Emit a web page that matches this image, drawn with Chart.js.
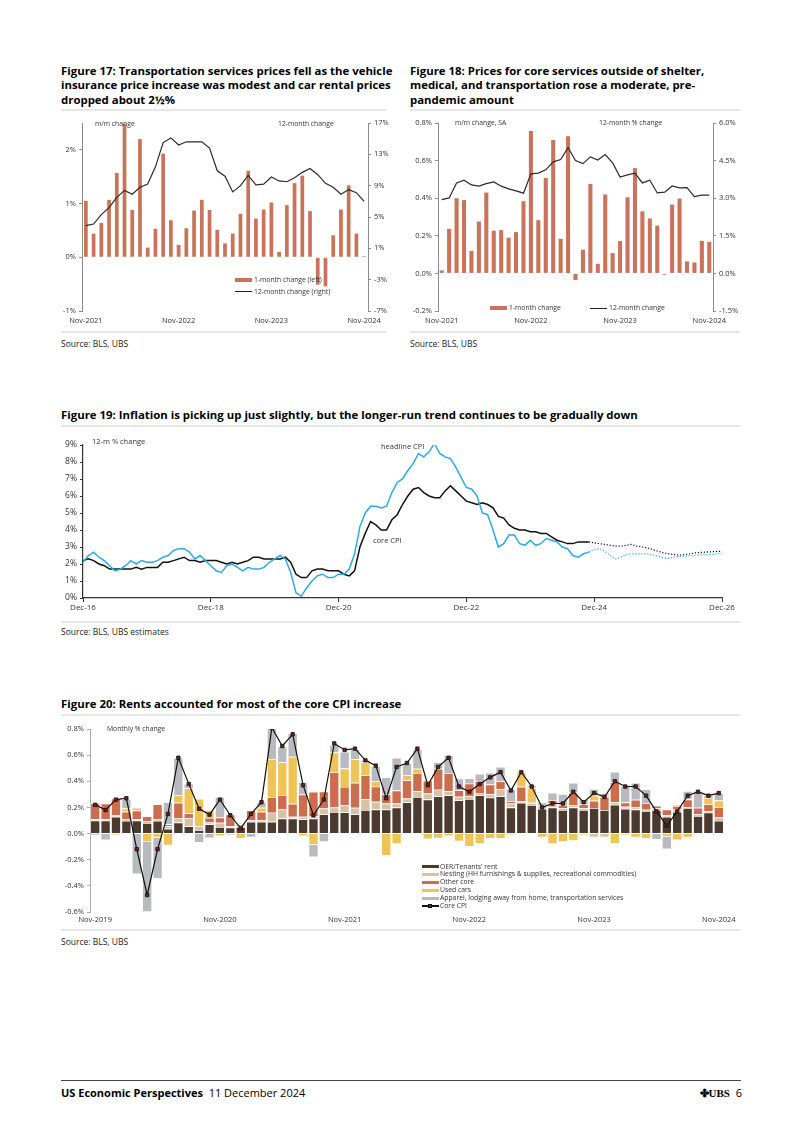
<!DOCTYPE html>
<html>
<head>
<meta charset="utf-8">
<script src="https://cdn.jsdelivr.net/npm/chart.js@4.4.1/dist/chart.umd.min.js"></script>
<style>
  body { margin: 0; width: 802px; height: 1134px; position: relative; background: #fff; overflow: hidden;
         font-family: 'Open Sans', 'Noto Sans', sans-serif; color: #000; }
  .title { position: absolute; font-weight: 700; font-size: 11.4px; line-height: 14.3px; white-space: nowrap; }
  .rule { position: absolute; height: 2px; background: #e6e6e6; }
  .src { position: absolute; font-size: 8.5px; line-height: 10px; color: #222; }
  .note { position: absolute; font-size: 6.8px; line-height: 8px; color: #333; white-space: nowrap; }
  .sw { position: absolute; }
  canvas { position: absolute; }
</style>
</head>
<body>

<div class="title" style="left:61px;top:64px">Figure 17: Transportation services prices fell as the vehicle<br>insurance price increase was modest and car rental prices<br>dropped about 2½%</div>
<div class="title" style="left:410px;top:64px">Figure 18: Prices for core services outside of shelter,<br>medical, and transportation rose a moderate, pre-<br>pandemic amount</div>
<div class="rule" style="left:61px;top:109px;width:325px"></div>
<div class="rule" style="left:410px;top:109px;width:330px"></div>

<canvas id="c17" width="335" height="215" style="left:55px;top:115px"></canvas>
<canvas id="c18" width="345" height="215" style="left:400px;top:115px"></canvas>

<div class="note" style="left:95px;top:120px">m/m change</div>
<div class="note" style="left:278px;top:120px">12-month change</div>
<div class="sw" style="left:235px;top:278px;width:17px;height:4px;background:#c8735a"></div>
<div class="note" style="left:254px;top:276px">1-month change (left)</div>
<div class="sw" style="left:235px;top:291px;width:17px;height:1.3px;background:#222"></div>
<div class="note" style="left:254px;top:288px">12-month change (right)</div>

<div class="note" style="left:455px;top:119px">m/m change, SA</div>
<div class="note" style="left:599px;top:119px">12-month % change</div>
<div class="sw" style="left:490px;top:306px;width:17px;height:4px;background:#c8735a"></div>
<div class="note" style="left:509px;top:304px">1-month change</div>
<div class="sw" style="left:590px;top:307.5px;width:17px;height:1.3px;background:#222"></div>
<div class="note" style="left:609px;top:304px">12-month change</div>

<div class="rule" style="left:61px;top:331px;width:325px"></div>
<div class="rule" style="left:410px;top:331px;width:330px"></div>
<div class="src" style="left:61px;top:339px">Source: BLS, UBS</div>
<div class="src" style="left:410px;top:339px">Source: BLS, UBS</div>

<div class="title" style="left:61px;top:408px">Figure 19: Inflation is picking up just slightly, but the longer-run trend continues to be gradually down</div>
<div class="rule" style="left:61px;top:425px;width:679px"></div>
<canvas id="c19" width="690" height="185" style="left:55px;top:432px"></canvas>
<div class="note" style="left:92px;top:437px;font-size:7.5px">12-m % change</div>
<div class="note" style="left:381px;top:442px;font-size:7.5px">headline CPI</div>
<div class="note" style="left:373px;top:536px;font-size:7.5px">core CPI</div>
<div class="rule" style="left:61px;top:621px;width:679px"></div>
<div class="src" style="left:61px;top:627px">Source: BLS, UBS estimates</div>

<div class="title" style="left:61px;top:697px">Figure 20: Rents accounted for most of the core CPI increase</div>
<div class="rule" style="left:61px;top:714px;width:679px"></div>
<canvas id="c20" width="690" height="210" style="left:55px;top:720px"></canvas>
<div class="note" style="left:107px;top:725px">Monthly % change</div>
<div id="leg20"></div>
<div class="rule" style="left:61px;top:929px;width:679px"></div>
<div class="src" style="left:61px;top:937px">Source: BLS, UBS</div>

<div style="position:absolute;left:61px;top:1080px;width:680px;height:1px;background:#444"></div>
<div style="position:absolute;left:61px;top:1086px;font-size:11px;line-height:14px;white-space:nowrap"><b>US Economic Perspectives</b>&nbsp; 11 December 2024</div>
<div style="position:absolute;left:690px;top:1086px;width:52px;text-align:right;font-size:11px;line-height:14px;white-space:nowrap"><span style="font-family:'Liberation Serif',serif;font-weight:700">✤UBS</span>&nbsp; 6</div>

<script>
// Figure 17: transportation services
const months17 = ['Nov-2021', 'Nov-2022', 'Nov-2023', 'Nov-2024'];
const transport1m = [1.05, 0.44, 0.64, 1.07, 1.57, 2.48, 0.88, 2.2, 0.18, 0.53,
                     1.93, 0.69, 0.23, 0.54, 0.87, 1.07, 0.88, 0.51, 0.26, 0.44,
                     0.81, 1.61, 0.72, 0.89, 1.02, 0.10, 0.97, 1.38, 1.52, 0.86,
                     -0.51, -0.54, 0.41, 0.89, 1.34, 0.44, 0.02];
const transport12m = [3.9, 4.1, 5.3, 6.2, 7.5, 8.4, 7.9, 8.8, 9.2, 11.4,
                      14.5, 15.1, 14.2, 14.6, 14.6, 14.6, 13.8, 10.9, 10.2, 8.2,
                      9.0, 10.3, 9.1, 9.2, 10.1, 9.6, 9.5, 10.0, 10.7, 11.2,
                      10.4, 9.3, 8.8, 7.9, 8.5, 8.1, 7.0];

// Figure 18: other core services
const months18 = ['Nov-2021', 'Nov-2022', 'Nov-2023', 'Nov-2024'];
const services1m = [0.016, 0.237, 0.40, 0.39, 0.12, 0.276, 0.43, 0.227, 0.23, 0.19,
                    0.22, 0.384, 0.757, 0.283, 0.508, 0.71, 0.184, 0.73, -0.035, 0.126,
                    0.476, 0.051, 0.42, 0.108, 0.172, 0.405, 0.56, 0.33, 0.292, 0.254,
                    -0.007, 0.366, 0.398, 0.064, 0.058, 0.173, 0.168];
const services12m = [2.94, 3.01, 3.61, 3.72, 3.53, 3.48, 3.58, 3.65, 3.48, 3.37,
                     3.29, 3.20, 3.97, 4.0, 4.13, 4.45, 4.54, 5.02, 4.50, 4.38,
                     4.65, 4.52, 4.74, 4.41, 3.84, 3.93, 4.0, 3.61, 3.72, 3.21,
                     3.24, 3.49, 3.41, 3.42, 3.06, 3.12, 3.12];

// Figure 19: CPI 12-m % change, Dec-16 .. Nov-24 actual, Nov-24 .. Dec-26 forecast
const ticks19 = ['Dec-16', 'Dec-18', 'Dec-20', 'Dec-22', 'Dec-24', 'Dec-26'];
const headlineCPI = [2.1,
  2.5, 2.7, 2.4, 2.2, 1.9, 1.6, 1.7, 1.9, 2.2, 2.0, 2.2, 2.1,
  2.1, 2.2, 2.4, 2.5, 2.8, 2.9, 2.9, 2.7, 2.3, 2.5, 2.2, 1.9,
  1.6, 1.5, 1.9, 2.0, 1.8, 1.6, 1.8, 1.7, 1.7, 1.8, 2.1, 2.3,
  2.5, 2.3, 1.5, 0.3, 0.1, 0.6, 1.0, 1.3, 1.4, 1.2, 1.2, 1.4,
  1.4, 1.7, 2.6, 4.2, 5.0, 5.4, 5.4, 5.3, 5.4, 6.2, 6.8, 7.0,
  7.5, 7.9, 8.5, 8.3, 8.6, 9.1, 8.5, 8.3, 8.2, 7.7, 7.1, 6.5,
  6.4, 6.0, 5.0, 4.9, 4.0, 3.0, 3.2, 3.7, 3.7, 3.2, 3.1, 3.4,
  3.1, 3.2, 3.5, 3.4, 3.3, 3.0, 2.9, 2.5, 2.4, 2.6, 2.7];
const coreCPI = [2.2,
  2.3, 2.2, 2.0, 1.9, 1.7, 1.7, 1.7, 1.7, 1.7, 1.8, 1.7, 1.8,
  1.8, 1.8, 2.1, 2.1, 2.2, 2.3, 2.4, 2.2, 2.2, 2.1, 2.2, 2.2,
  2.2, 2.1, 2.0, 2.1, 2.0, 2.1, 2.2, 2.4, 2.4, 2.3, 2.3, 2.3,
  2.3, 2.4, 2.1, 1.4, 1.2, 1.2, 1.6, 1.7, 1.7, 1.6, 1.6, 1.6,
  1.4, 1.3, 1.6, 3.0, 3.8, 4.5, 4.3, 4.0, 4.0, 4.6, 4.9, 5.5,
  6.0, 6.4, 6.5, 6.2, 6.0, 5.9, 5.9, 6.3, 6.6, 6.3, 6.0, 5.7,
  5.6, 5.5, 5.6, 5.5, 5.3, 4.8, 4.7, 4.3, 4.1, 4.0, 4.0, 3.9,
  3.9, 3.8, 3.8, 3.6, 3.4, 3.3, 3.2, 3.2, 3.3, 3.3, 3.3];
const headlineFcst = [2.7, 2.85, 2.9, 2.75, 2.5, 2.3, 2.4, 2.55, 2.6, 2.6, 2.6, 2.6, 2.55,
                      2.45, 2.35, 2.35, 2.4, 2.45, 2.45, 2.5, 2.5, 2.55, 2.55, 2.55, 2.6, 2.6];
const coreFcst = [3.3, 3.25, 3.2, 3.15, 3.1, 3.05, 3.05, 3.1, 3.15, 3.05, 3.0, 2.95, 2.85,
                  2.75, 2.65, 2.6, 2.55, 2.52, 2.55, 2.6, 2.65, 2.68, 2.7, 2.72, 2.74, 2.75];

// Figure 20: contributions to monthly core CPI, Nov-2019 .. Nov-2024
const ticks20 = ['Nov-2019', 'Nov-2020', 'Nov-2021', 'Nov-2022', 'Nov-2023', 'Nov-2024'];
const oerRent = [0.10, 0.10, 0.128, 0.097, 0.10, 0.08, 0.097, 0.036, 0.084, 0.056,
                 0.026, 0.07, 0.05, 0.046, 0.05, 0.09, 0.09, 0.09, 0.115, 0.115,
                 0.11, 0.115, 0.148, 0.165, 0.163, 0.148, 0.18, 0.184, 0.184, 0.2,
                 0.24, 0.28, 0.26, 0.286, 0.293, 0.255, 0.265, 0.293, 0.275, 0.286,
                 0.2, 0.235, 0.218, 0.19, 0.2, 0.18, 0.2, 0.18, 0.196, 0.18,
                 0.22, 0.19, 0.184, 0.173, 0.18, 0.128, 0.166, 0.196, 0.135, 0.16,
                 0.097];
const nesting = [0.012, 0.01, 0.01, 0.015, 0.012, 0.013, 0.01, 0.02, 0.036, 0.06,
                 0.03, 0.015, 0.033, 0.01, 0.01, 0.013, 0.013, 0.07, 0.07, 0.013,
                 0.018, 0.02, 0.043, 0.035, 0.054, 0.05, 0.085, 0.06, 0.046, 0.03,
                 0.028, 0.043, 0.046, 0.05, 0.03, 0.026, 0.023, 0.018, 0.026, 0.054,
                 0.03, 0.013, 0.013, 0.018, 0.03, 0.015, 0.018, 0.013, -0.03, -0.03,
                 0.02, 0.015, 0.015, 0.01, 0.015, 0.013, 0.018, 0.005, 0.013, 0.013,
                 0.026];
const otherCore = [0.12, 0.12, 0.13, 0.055, 0.065, 0.04, 0.117, 0.015, 0.115, 0.04,
                   0, 0.035, 0.04, 0.09, 0.01, 0.075, 0.064, 0.12, 0.11, 0.10,
                   0.17, 0.185, 0.13, 0.27, 0.14, 0.19, 0.18, 0.115, 0.07, 0.1,
                   0.14, 0.14, 0.10, 0.16, 0.14, 0.05, 0.094, 0.09, 0.074, 0.06,
                   0.018, 0.11, 0.01, 0.01, 0.026, 0.023, 0.094, 0.03, 0.055, 0.1,
                   0.153, 0.033, 0.06, 0.05, 0.018, 0.043, 0.026, 0.06, 0.05, 0.05,
                   0.08];
const usedCars = [0, 0, -0.01, 0.025, 0.02, -0.065, -0.03, -0.09, 0.06, 0.19,
                  0.21, 0.06, -0.02, 0, -0.04, 0, 0.03, 0.29, 0.25, 0.36,
                  -0.02, -0.085, 0, 0.15, 0.14, 0.18, 0.10, 0.04, -0.17, -0.08,
                  0.04, 0.033, -0.043, -0.038, -0.02, -0.06, -0.1, -0.077, -0.04, -0.04,
                  -0.01, 0.11, 0.11, -0.03, -0.08, -0.064, -0.056, -0.01, 0.04, 0.01,
                  -0.077, -0.01, -0.03, -0.04, 0, -0.025, -0.05, -0.03, 0, 0.05,
                  0.05];
const apparelLodging = [-0.015, -0.05, 0, 0.07, -0.31, -0.535, -0.315, 0.17, 0.285, 0.035,
                        -0.07, -0.035, 0.157, -0.01, 0.01, -0.03, 0.045, 0.24, 0.12, 0.18,
                        0.095, -0.095, -0.065, 0.06, 0.128, 0.077, 0.02, 0.115, 0.13, 0.25,
                        0.09, 0.15, 0, 0.05, 0.135, 0.09, 0.04, 0.056, 0.09, 0.11,
                        0.092, 0.01, 0.02, 0.02, 0.056, 0.085, 0.077, 0.04, 0.05, 0.02,
                        0.08, 0.125, 0.13, 0.105, -0.046, -0.095, 0.01, 0.064, 0.12, 0.02,
                        0.056];
const coreMonthly = [0.22, 0.18, 0.26, 0.27, -0.12, -0.47, -0.12, 0.15, 0.58, 0.38,
                     0.19, 0.145, 0.26, 0.14, 0.04, 0.15, 0.24, 0.81, 0.67, 0.76,
                     0.37, 0.14, 0.26, 0.69, 0.64, 0.65, 0.56, 0.52, 0.27, 0.51,
                     0.54, 0.65, 0.37, 0.51, 0.58, 0.36, 0.32, 0.38, 0.43, 0.47,
                     0.33, 0.47, 0.36, 0.20, 0.23, 0.23, 0.32, 0.24, 0.31, 0.28,
                     0.40, 0.36, 0.36, 0.29, 0.17, 0.06, 0.17, 0.29, 0.32, 0.29,
                     0.31];

const BAR = '#c8735a';
const BLUE = '#2aace2';
const AX = '#8c8c8c';
const MON = ['Jan','Feb','Mar','Apr','May','Jun','Jul','Aug','Sep','Oct','Nov','Dec'];

Chart.defaults.font.family = "'Open Sans', 'Noto Sans', sans-serif";
Chart.defaults.color = '#333';

// month labels starting from a given month index / year
function monthList(startMonth, startYear, n, shortYear) {
    const out = [];
    for (let i = 0; i < n; i++) {
        const m = (startMonth + i) % 12;
        const y = startYear + Math.floor((startMonth + i) / 12);
        out.push(MON[m] + '-' + (shortYear ? String(y).slice(2) : y));
    }
    return out;
}

function pct1(v) {
    if (Math.abs(v) < 1e-9) v = 0;
    return v.toFixed(1) + '%';
}

const base = {
    responsive: false,
    animation: false,
    events: [],
    plugins: { legend: { display: false }, tooltip: { enabled: false } },
};

// ---- Figure 17
new Chart(document.getElementById('c17'), {
    type: 'bar',
    data: {
        labels: monthList(10, 2021, transport1m.length),
        datasets: [
            { type: 'line', data: transport12m, yAxisID: 'y2', borderColor: '#2a2a2a', borderWidth: 1.2,
              pointRadius: 0, order: 0 },
            { type: 'bar', data: transport1m, yAxisID: 'y', backgroundColor: BAR,
              barPercentage: 0.48, categoryPercentage: 1, order: 1 },
        ],
    },
    options: {
        ...base,
        layout: { padding: { top: 8, left: 0, right: 0, bottom: 0 }, autoPadding: false },
        scales: {
            x: {
                grid: { display: false, drawTicks: false, tickLength: 0 }, border: { display: false },
                ticks: { autoSkip: false, maxRotation: 0, padding: 5, font: { size: 7.5 },
                         callback: (v, i) => (i % 12 === 0 ? months17[i / 12] : '') },
                afterFit: s => { s.height = 19; },
            },
            y: {
                position: 'left', min: -1, max: 2.5,
                ticks: { stepSize: 1, includeBounds: false, padding: 3, font: { size: 7.5 }, callback: v => v + '%' },
                grid: { drawOnChartArea: false, tickLength: 3, color: AX },
                border: { color: AX },
                afterFit: s => { s.width = 27; },
            },
            y2: {
                position: 'right', min: -7, max: 17,
                ticks: { stepSize: 4, padding: 3, font: { size: 7.5 }, callback: v => v + '%' },
                grid: { drawOnChartArea: false, tickLength: 3, color: AX },
                border: { color: AX },
                afterFit: s => { s.width = 22; },
            },
        },
    },
});

// ---- Figure 18
new Chart(document.getElementById('c18'), {
    type: 'bar',
    data: {
        labels: monthList(10, 2021, services1m.length),
        datasets: [
            { type: 'line', data: services12m, yAxisID: 'y2', borderColor: '#2a2a2a', borderWidth: 1.2,
              pointRadius: 0, order: 0 },
            { type: 'bar', data: services1m, yAxisID: 'y', backgroundColor: BAR,
              barPercentage: 0.55, categoryPercentage: 1, order: 1 },
        ],
    },
    options: {
        ...base,
        layout: { padding: { top: 8, left: 0, right: 0, bottom: 0 }, autoPadding: false },
        scales: {
            x: {
                grid: { display: false, drawTicks: false, tickLength: 0 }, border: { display: false },
                ticks: { autoSkip: false, maxRotation: 0, padding: 5, font: { size: 7.5 },
                         callback: (v, i) => (i % 12 === 0 ? months18[i / 12] : '') },
                afterFit: s => { s.height = 19; },
            },
            y: {
                position: 'left', min: -0.2, max: 0.8,
                ticks: { stepSize: 0.2, padding: 3, font: { size: 7.5 }, callback: pct1 },
                grid: { drawOnChartArea: false, tickLength: 3, color: AX },
                border: { color: AX },
                afterFit: s => { s.width = 38; },
            },
            y2: {
                position: 'right', min: -1.5, max: 6,
                ticks: { stepSize: 1.5, padding: 3, font: { size: 7.5 }, callback: pct1 },
                grid: { drawOnChartArea: false, tickLength: 3, color: AX },
                border: { color: AX },
                afterFit: s => { s.width = 32; },
            },
        },
    },
});

// ---- Figure 19
const labels19 = monthList(11, 2016, 121, true);
const nFcstStart = headlineCPI.length - 1;
new Chart(document.getElementById('c19'), {
    type: 'line',
    data: {
        labels: labels19,
        datasets: [
            { data: headlineCPI, borderColor: BLUE, borderWidth: 1.5, pointRadius: 0 },
            { data: coreCPI, borderColor: '#111', borderWidth: 1.5, pointRadius: 0 },
            { data: Array(nFcstStart).fill(null).concat(headlineFcst), borderColor: BLUE, borderWidth: 1.2,
              borderDash: [1.2, 1.8], pointRadius: 0 },
            { data: Array(nFcstStart).fill(null).concat(coreFcst), borderColor: '#111', borderWidth: 1.2,
              borderDash: [1.2, 1.8], pointRadius: 0 },
        ],
    },
    options: {
        ...base,
        layout: { padding: { top: 13, left: 0, right: 23, bottom: 0 }, autoPadding: false },
        scales: {
            x: {
                offset: false,
                grid: { drawOnChartArea: false, tickLength: 4,
                        color: ctx => (ctx.index % 24 === 0 ? '#333' : 'rgba(0,0,0,0)') },
                border: { color: '#333', width: 1.2 },
                ticks: { autoSkip: false, maxRotation: 0, padding: 1, font: { size: 8 },
                         callback: (v, i) => (i % 24 === 0 ? ticks19[i / 24] : '') },
                afterFit: s => { s.height = 19; },
            },
            y: {
                min: 0, max: 9,
                ticks: { stepSize: 1, padding: 3, font: { size: 8.5 }, callback: v => v + '%' },
                grid: { drawOnChartArea: false, tickLength: 3, color: '#333' },
                border: { color: '#333', width: 1.2 },
                afterFit: s => { s.width = 28; },
            },
        },
    },
});

// ---- Figure 20
const comp20 = [
    { label: "OER/Tenants' rent", data: oerRent, color: '#4a3a2f' },
    { label: 'Nesting (HH furnishings & supplies, recreational commodities)', data: nesting, color: '#d7c2a6' },
    { label: 'Other core', data: otherCore, color: '#cc6d4e' },
    { label: 'Used cars', data: usedCars, color: '#eec457' },
    { label: 'Apparel, lodging away from home, transportation services', data: apparelLodging, color: '#b8babf' },
];
new Chart(document.getElementById('c20'), {
    type: 'bar',
    data: {
        labels: monthList(10, 2019, oerRent.length),
        datasets: [
            { type: 'line', label: 'Core CPI', data: coreMonthly, stack: 'core', borderColor: '#111', borderWidth: 1.2,
              pointStyle: 'rect', pointRadius: 2.4, pointBackgroundColor: '#6e1d1d', pointBorderColor: '#111',
              pointBorderWidth: 0.8, order: 0 },
        ].concat(comp20.map(c => ({
            type: 'bar', label: c.label, data: c.data, backgroundColor: c.color, stack: 'parts',
            borderColor: '#fff', borderWidth: 0.7, barPercentage: 0.94, categoryPercentage: 1, order: 1,
        }))),
    },
    options: {
        ...base,
        layout: { padding: { top: 9, left: 0, right: 21, bottom: 0 }, autoPadding: false },
        scales: {
            x: {
                stacked: true,
                grid: { display: false, drawTicks: false, tickLength: 0 }, border: { display: false },
                ticks: { autoSkip: false, maxRotation: 0, padding: 3, font: { size: 7.5 },
                         callback: (v, i) => (i % 12 === 0 ? ticks20[i / 12] : '') },
                afterFit: s => { s.height = 18; },
            },
            y: {
                stacked: true, min: -0.6, max: 0.8,
                ticks: { stepSize: 0.2, padding: 3, font: { size: 7.5 }, callback: pct1 },
                grid: { drawOnChartArea: false, tickLength: 3, color: '#aaa' },
                border: { color: '#aaa' },
                afterFit: s => { s.width = 35; },
            },
        },
    },
});

// legend for figure 20
const legRows = [866.7, 874.3, 882.3, 890.3, 898.3, 906];
let html = '';
comp20.forEach((c, i) => {
    html += `<div class="sw" style="left:422px;top:${legRows[i] - 1.5}px;width:17px;height:3px;background:${c.color}"></div>`;
    html += `<div class="note" style="left:440px;top:${legRows[i] - 4}px">${c.label}</div>`;
});
html += `<div class="sw" style="left:422px;top:${legRows[5] - 0.6}px;width:17px;height:1.2px;background:#111"></div>`;
html += `<div class="sw" style="left:428px;top:${legRows[5] - 2.5}px;width:4px;height:4px;background:#6e1d1d;border:0.8px solid #111;box-sizing:border-box"></div>`;
html += `<div class="note" style="left:440px;top:${legRows[5] - 4}px">Core CPI</div>`;
document.getElementById('leg20').innerHTML = html;
</script>
</body>
</html>
